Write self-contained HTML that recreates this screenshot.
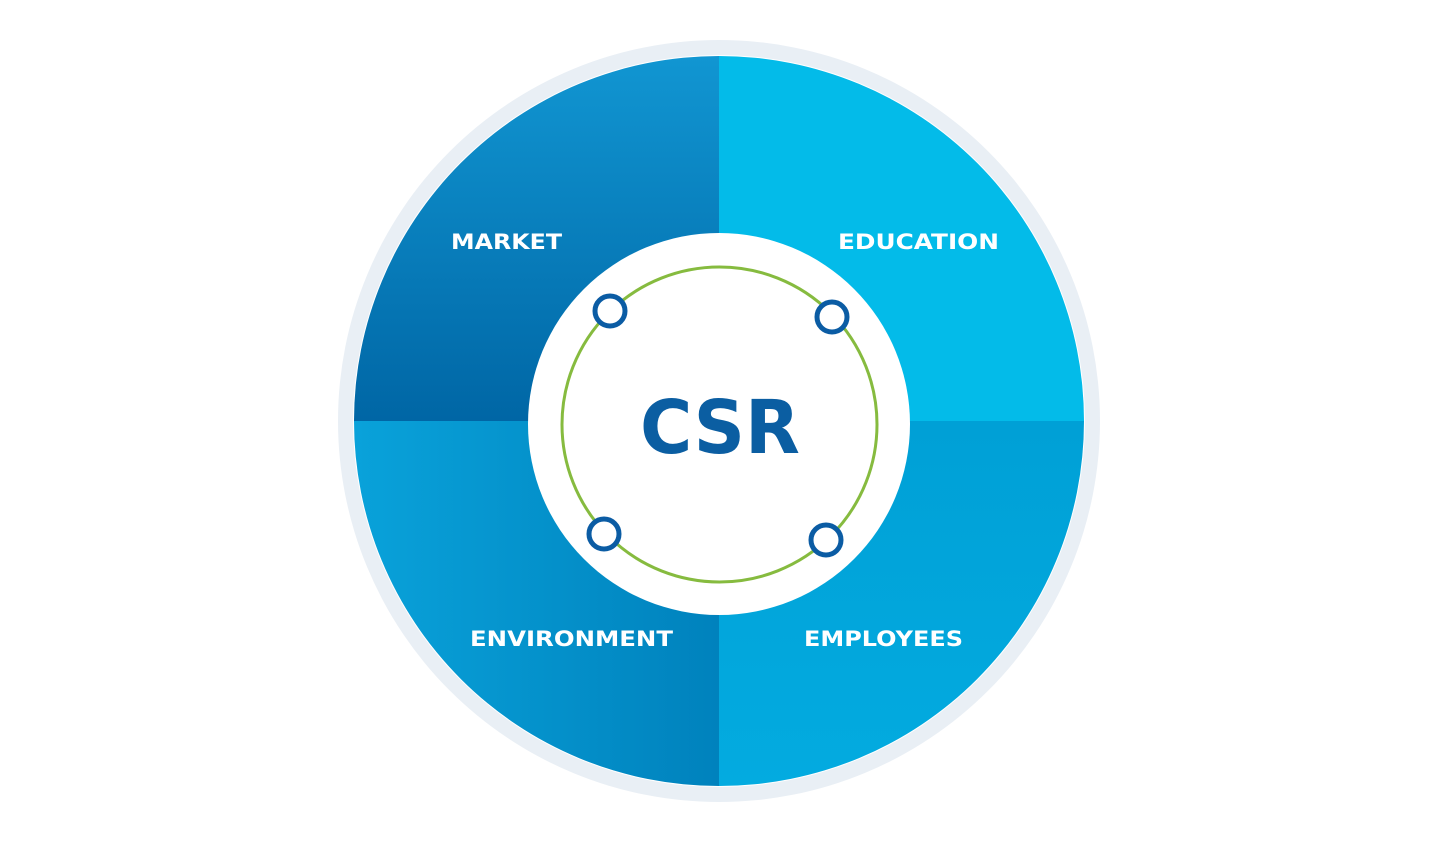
<!DOCTYPE html>
<html><head><meta charset="utf-8"><style>
html,body{margin:0;padding:0;background:#fff;}
svg{display:block;}
</style></head><body>
<svg width="1439" height="850" viewBox="0 0 1439 850" xmlns="http://www.w3.org/2000/svg">
<defs>
<linearGradient id="tl" x1="0" y1="0" x2="0" y2="1">
<stop offset="0" stop-color="#1196d2"/><stop offset="1" stop-color="#0066a5"/>
</linearGradient>
<linearGradient id="bl" x1="0" y1="0" x2="1" y2="0">
<stop offset="0" stop-color="#09a2da"/><stop offset="1" stop-color="#0082bd"/>
</linearGradient>
<linearGradient id="br" x1="0" y1="0" x2="0" y2="1">
<stop offset="0" stop-color="#00a0d6"/><stop offset="1" stop-color="#03abe0"/>
</linearGradient>
</defs>
<circle cx="719" cy="421" r="381" fill="#e9eff5"/>
<circle cx="719" cy="421" r="366" fill="#fff"/>
<path d="M719 421 L354 421 A365 365 0 0 1 719 56 Z" fill="url(#tl)"/>
<path d="M719 421 L719 56 A365 365 0 0 1 1084 421 Z" fill="#03bbe9"/>
<path d="M719 421 L719 786 A365 365 0 0 1 354 421 Z" fill="url(#bl)"/>
<path d="M719 421 L1084 421 A365 365 0 0 1 719 786 Z" fill="url(#br)"/>
<circle cx="719" cy="424" r="191" fill="#fff"/>
<circle cx="719.5" cy="424.5" r="157.5" fill="none" stroke="#86bb3f" stroke-width="3"/>
<g fill="#fff" stroke="#0b5ca4" stroke-width="5">
<circle cx="610" cy="311" r="15"/>
<circle cx="832" cy="317" r="15"/>
<circle cx="604" cy="534" r="15"/>
<circle cx="826" cy="540" r="15"/>
</g>
<g font-family="DejaVu Sans, sans-serif" font-weight="bold" fill="#fff" font-size="21" lengthAdjust="spacingAndGlyphs">
<text x="451" y="249" textLength="111" lengthAdjust="spacingAndGlyphs">MARKET</text>
<text x="838" y="249" textLength="161" lengthAdjust="spacingAndGlyphs">EDUCATION</text>
<text x="470" y="646" textLength="203" lengthAdjust="spacingAndGlyphs">ENVIRONMENT</text>
<text x="804" y="646" textLength="159" lengthAdjust="spacingAndGlyphs">EMPLOYEES</text>
</g>
<text x="640" y="453" textLength="160" lengthAdjust="spacingAndGlyphs" font-family="DejaVu Sans, sans-serif" font-weight="bold" font-size="74" fill="#0b5ea2">CSR</text>
</svg>
</body></html>
